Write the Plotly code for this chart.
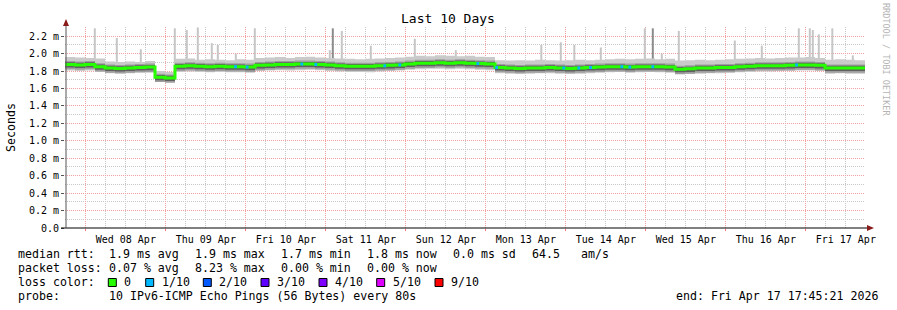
import pandas as pd
import plotly.graph_objects as go

# ---------------- data ----------------
start = pd.Timestamp("2026-04-07 17:45:21")
end = pd.Timestamp("2026-04-17 17:45:21")
step = pd.Timedelta(hours=3)

median_ms = [1.875, 1.87, 1.875, 1.85, 1.835, 1.83, 1.835, 1.84, 1.845, 1.73,
             1.72, 1.855, 1.86, 1.855, 1.85, 1.855, 1.85, 1.85, 1.845, 1.865,
             1.87, 1.875, 1.875, 1.88, 1.88, 1.875, 1.87, 1.86, 1.855, 1.855,
             1.855, 1.86, 1.865, 1.87, 1.88, 1.89, 1.89, 1.895, 1.89, 1.895,
             1.89, 1.885, 1.88, 1.84, 1.835, 1.83, 1.835, 1.835, 1.84, 1.835,
             1.83, 1.835, 1.84, 1.845, 1.85, 1.85, 1.845, 1.85, 1.85, 1.85,
             1.845, 1.82, 1.825, 1.835, 1.835, 1.84, 1.84, 1.85, 1.855, 1.86,
             1.86, 1.86, 1.865, 1.87, 1.87, 1.865, 1.835, 1.835, 1.835, 1.835]

smoke_hi_ms = [1.96, 1.955, 1.95, 1.945, 1.91, 1.905, 1.91, 1.905, 1.915, 1.80,
               1.79, 1.94, 1.945, 1.93, 1.935, 1.93, 1.925, 1.935, 1.93, 1.95,
               1.955, 1.96, 1.95, 1.96, 1.965, 1.955, 1.95, 1.945, 1.94, 1.935,
               1.94, 1.945, 1.95, 1.955, 1.965, 1.975, 1.97, 1.98, 1.975, 1.97,
               1.975, 1.965, 1.96, 1.925, 1.92, 1.925, 1.92, 1.93, 1.925, 1.92,
               1.925, 1.93, 1.925, 1.93, 1.935, 1.94, 1.935, 1.94, 1.945, 1.935,
               1.94, 1.92, 1.925, 1.93, 1.925, 1.93, 1.935, 1.94, 1.945, 1.95,
               1.945, 1.95, 1.955, 1.955, 1.96, 1.95, 1.93, 1.935, 1.93, 1.925]

smoke_lo_ms = [1.805, 1.80, 1.805, 1.79, 1.775, 1.77, 1.775, 1.78, 1.78, 1.68,
               1.675, 1.79, 1.795, 1.79, 1.785, 1.79, 1.785, 1.785, 1.78, 1.80,
               1.805, 1.81, 1.805, 1.81, 1.815, 1.81, 1.80, 1.795, 1.79, 1.79,
               1.785, 1.795, 1.80, 1.805, 1.815, 1.82, 1.825, 1.825, 1.82, 1.825,
               1.82, 1.815, 1.81, 1.775, 1.77, 1.765, 1.77, 1.775, 1.775, 1.77,
               1.765, 1.77, 1.775, 1.78, 1.785, 1.79, 1.78, 1.785, 1.79, 1.785,
               1.78, 1.76, 1.765, 1.77, 1.775, 1.775, 1.78, 1.785, 1.79, 1.795,
               1.795, 1.80, 1.80, 1.805, 1.805, 1.80, 1.77, 1.775, 1.77, 1.77]

spike_times = ["2026-04-08 02:42", "2026-04-08 09:18", "2026-04-08 16:30",
               "2026-04-09 02:42", "2026-04-09 06:18", "2026-04-09 09:36",
               "2026-04-09 13:48", "2026-04-09 15:36", "2026-04-09 21:00",
               "2026-04-10 02:42", "2026-04-11 01:12", "2026-04-11 02:06",
               "2026-04-11 04:48", "2026-04-11 13:30", "2026-04-12 02:42",
               "2026-04-12 15:00", "2026-04-13 16:39", "2026-04-13 22:30",
               "2026-04-14 02:33", "2026-04-14 10:30", "2026-04-14 23:42",
               "2026-04-15 02:06", "2026-04-15 04:48", "2026-04-15 09:54",
               "2026-04-16 02:42", "2026-04-16 10:48", "2026-04-16 21:54",
               "2026-04-17 01:12", "2026-04-17 02:06", "2026-04-17 03:54",
               "2026-04-17 07:57", "2026-04-17 14:06"]
spike_tops_ms = [2.29, 2.18, 2.05, 2.29, 2.27, 2.30, 2.12, 2.10, 2.00, 2.29,
                 2.04, 2.29, 2.26, 2.09, 2.17, 2.04, 2.10, 2.13, 2.10, 2.07,
                 2.29, 2.29, 2.00, 2.26, 2.15, 2.09, 2.29, 2.29, 2.27, 2.22,
                 2.29, 1.98]
spike_dark = [False] * 11 + [True] + [False] * 9 + [True] + [False] * 10

loss_1_times = ["2026-04-09 20:55", "2026-04-10 00:23", "2026-04-10 16:48",
                "2026-04-10 21:00", "2026-04-11 17:42", "2026-04-11 22:12",
                "2026-04-12 21:36", "2026-04-13 03:13", "2026-04-13 23:24",
                "2026-04-14 03:54", "2026-04-14 07:25", "2026-04-14 16:48",
                "2026-04-14 19:12", "2026-04-15 02:06", "2026-04-16 21:13"]

day_ticks = pd.date_range("2026-04-08", periods=10, freq="D")
day_labels = ["Wed 08 Apr", "Thu 09 Apr", "Fri 10 Apr", "Sat 11 Apr", "Sun 12 Apr",
              "Mon 13 Apr", "Tue 14 Apr", "Wed 15 Apr", "Thu 16 Apr", "Fri 17 Apr"]
y_ticks = [0.0, 0.2, 0.4, 0.6, 0.8, 1.0, 1.2, 1.4, 1.6, 1.8, 2.0, 2.2]
y_labels = ["0.0", "0.2 m", "0.4 m", "0.6 m", "0.8 m", "1.0 m", "1.2 m",
            "1.4 m", "1.6 m", "1.8 m", "2.0 m", "2.2 m"]

stats_rtt = ["1.9 ms avg", "1.9 ms max", "1.7 ms min", "1.8 ms now", "0.0 ms sd"]
stats_loss = ["0.07 % avg", "8.23 % max", "0.00 % min", "0.00 % now"]
loss_names = ["0", "1/10", "2/10", "3/10", "4/10", "5/10", "9/10"]
loss_colors = ["#26ff00", "#00b8ff", "#0059ff", "#5e00ff", "#7e00ff", "#dd00ff", "#ff0000"]

# ---------------- geometry / style ----------------
W, H = 897, 310
L, R, T, B = 65, 32, 27, 82
PW, PH = W - L - R, H - T - B
YMAX = 2.305
FONT = "DejaVu Sans Mono"


def px(x):
    return (x - L) / PW


def py(y):
    return (H - B - y) / PH


times = [start + step * i for i in range(len(median_ms) + 1)]


def ext(v):
    return list(v) + [v[-1]]


med = ext(median_ms)
hi = ext(smoke_hi_ms)
lo = ext(smoke_lo_ms)

fig = go.Figure()

# spikes (behind smoke)
for dark in (False, True):
    xs, ys = [], []
    for t, top, d in zip(spike_times, spike_tops_ms, spike_dark):
        if d == dark:
            xs += [t, t, None]
            ys += [1.85, top, None]
    fig.add_trace(go.Scatter(x=xs, y=ys, mode="lines", hoverinfo="skip",
                             line=dict(color="#8c8c8c" if dark else "#c6c6c6", width=2)))


def band(lower, upper, color):
    fig.add_trace(go.Scatter(x=times, y=lower, mode="lines", line=dict(width=0, shape="hv"),
                             hoverinfo="skip"))
    fig.add_trace(go.Scatter(x=times, y=upper, mode="lines", line=dict(width=0, shape="hv"),
                             fill="tonexty", fillcolor=color, hoverinfo="skip"))


band(lo, hi, "#cacaca")
band([m - 0.055 for m in med], [m + 0.04 for m in med], "#9e9e9e")
band([m - 0.035 for m in med], [m + 0.025 for m in med], "#606060")

fig.add_trace(go.Scatter(x=times, y=med, mode="lines",
                         line=dict(color=loss_colors[0], width=3, shape="hv"),
                         hoverinfo="skip"))

# loss-coloured bits on the median
lx, ly = [], []
for t in loss_1_times:
    ts = pd.Timestamp(t)
    i = min(int((ts - start) / step), len(median_ms) - 1)
    lx += [ts - pd.Timedelta(minutes=25), ts + pd.Timedelta(minutes=25), None]
    ly += [median_ms[i], median_ms[i], None]
fig.add_trace(go.Scatter(x=lx, y=ly, mode="lines", line=dict(color=loss_colors[1], width=3),
                         hoverinfo="skip"))

shapes = []
# axes
shapes.append(dict(type="line", xref="paper", yref="paper", x0=px(61), x1=px(868),
                   y0=0, y1=0, line=dict(color="#000000", width=1)))
shapes.append(dict(type="line", xref="paper", yref="paper", x0=px(66), x1=px(66),
                   y0=0, y1=py(23), line=dict(color="#555555", width=1)))
shapes.append(dict(type="path", xref="paper", yref="paper",
                   path=f"M {px(867)} {py(225)} L {px(874)} {py(228)} L {px(867)} {py(231)} Z",
                   fillcolor="#8b1a1a", line=dict(width=0)))
shapes.append(dict(type="path", xref="paper", yref="paper",
                   path=f"M {px(63)} {py(26)} L {px(66)} {py(19)} L {px(69)} {py(26)} Z",
                   fillcolor="#8b1a1a", line=dict(width=0)))

ann = []
ann.append(dict(text="Last 10 Days", x=px(448), y=py(19), xref="paper", yref="paper",
                showarrow=False, xanchor="center", yanchor="middle",
                font=dict(family=FONT, size=13, color="#000")))
ann.append(dict(text="RRDTOOL / TOBI OETIKER", x=px(886), y=py(59), xref="paper", yref="paper",
                showarrow=False, textangle=90, xanchor="center", yanchor="middle",
                font=dict(family=FONT, size=8.5, color="#b4b4b4")))

LF = dict(family=FONT, size=11.6, color="#000")
rows_y = [254, 268, 282, 296]


def text(s, x, y, anchor="left"):
    ann.append(dict(text=s, x=px(x), y=py(y), xref="paper", yref="paper", showarrow=False,
                    xanchor=anchor, yanchor="middle", font=LF))


text("median rtt:", 16, rows_y[0])
for s, x in zip(stats_rtt, [107.3, 193.3, 279.3, 365.3, 451.3]):
    text(s, x, rows_y[0])
text("64.5", 530, rows_y[0])
text("am/s", 579.3, rows_y[0])
text("packet loss:", 16, rows_y[1])
for s, x in zip(stats_loss, [107.3, 193.3, 279.3, 365.3]):
    text(s, x, rows_y[1])
text("loss color:", 16, rows_y[2])
box_x = [108.3, 145.7, 203.3, 261.0, 319.0, 376.7, 435.0]
for name, col, bx in zip(loss_names, loss_colors, box_x):
    shapes.append(dict(type="rect", xref="paper", yref="paper", x0=px(bx), x1=px(bx + 8),
                       y0=py(286.5), y1=py(278.5), fillcolor=col,
                       line=dict(color="#000000", width=1)))
    text(name, bx + 14, rows_y[2])
text("probe:", 16, rows_y[3])
text("10 IPv6-ICMP Echo Pings (56 Bytes) every 80s", 107.3, rows_y[3])
text("end: Fri Apr 17 17:45:21 2026", 880, rows_y[3], anchor="right")

fig.update_layout(
    width=W, height=H, margin=dict(l=L, r=R, t=T, b=B),
    paper_bgcolor="#ffffff", plot_bgcolor="#ffffff",
    showlegend=False, font=dict(family=FONT, color="#000"),
    shapes=shapes, annotations=ann,
    xaxis=dict(type="date", range=[start, end], tickmode="array",
               tickvals=list(day_ticks), ticktext=day_labels, ticklabelshift=40,
               tickfont=dict(family=FONT, size=10, color="#000"),
               ticks="outside", ticklen=2, tickcolor="#ff7070",
               showgrid=True, gridcolor="#f4a0a0", griddash="1px,1px", gridwidth=1,
               minor=dict(tickmode="linear", tick0="2026-04-08", dtick=6 * 3600 * 1000,
                          showgrid=True, gridcolor="#c8c8c8", griddash="1px,1px",
                          ticks=""),
               zeroline=False, showline=False, fixedrange=True),
    yaxis=dict(range=[0, YMAX], tickmode="array", tickvals=y_ticks, ticktext=y_labels,
               tickfont=dict(family=FONT, size=10, color="#000"),
               ticks="outside", ticklen=3, tickcolor="#555555",
               showgrid=True, gridcolor="#f4a0a0", griddash="1px,1px", gridwidth=1,
               minor=dict(tickmode="linear", tick0=0, dtick=0.1, showgrid=True,
                          gridcolor="#c8c8c8", griddash="1px,1px", ticks=""),
               title=dict(text="Seconds", font=dict(family=FONT, size=11.6, color="#000"),
                          standoff=10),
               zeroline=False, showline=False, fixedrange=True),
)

fig.write_html("out.html")
